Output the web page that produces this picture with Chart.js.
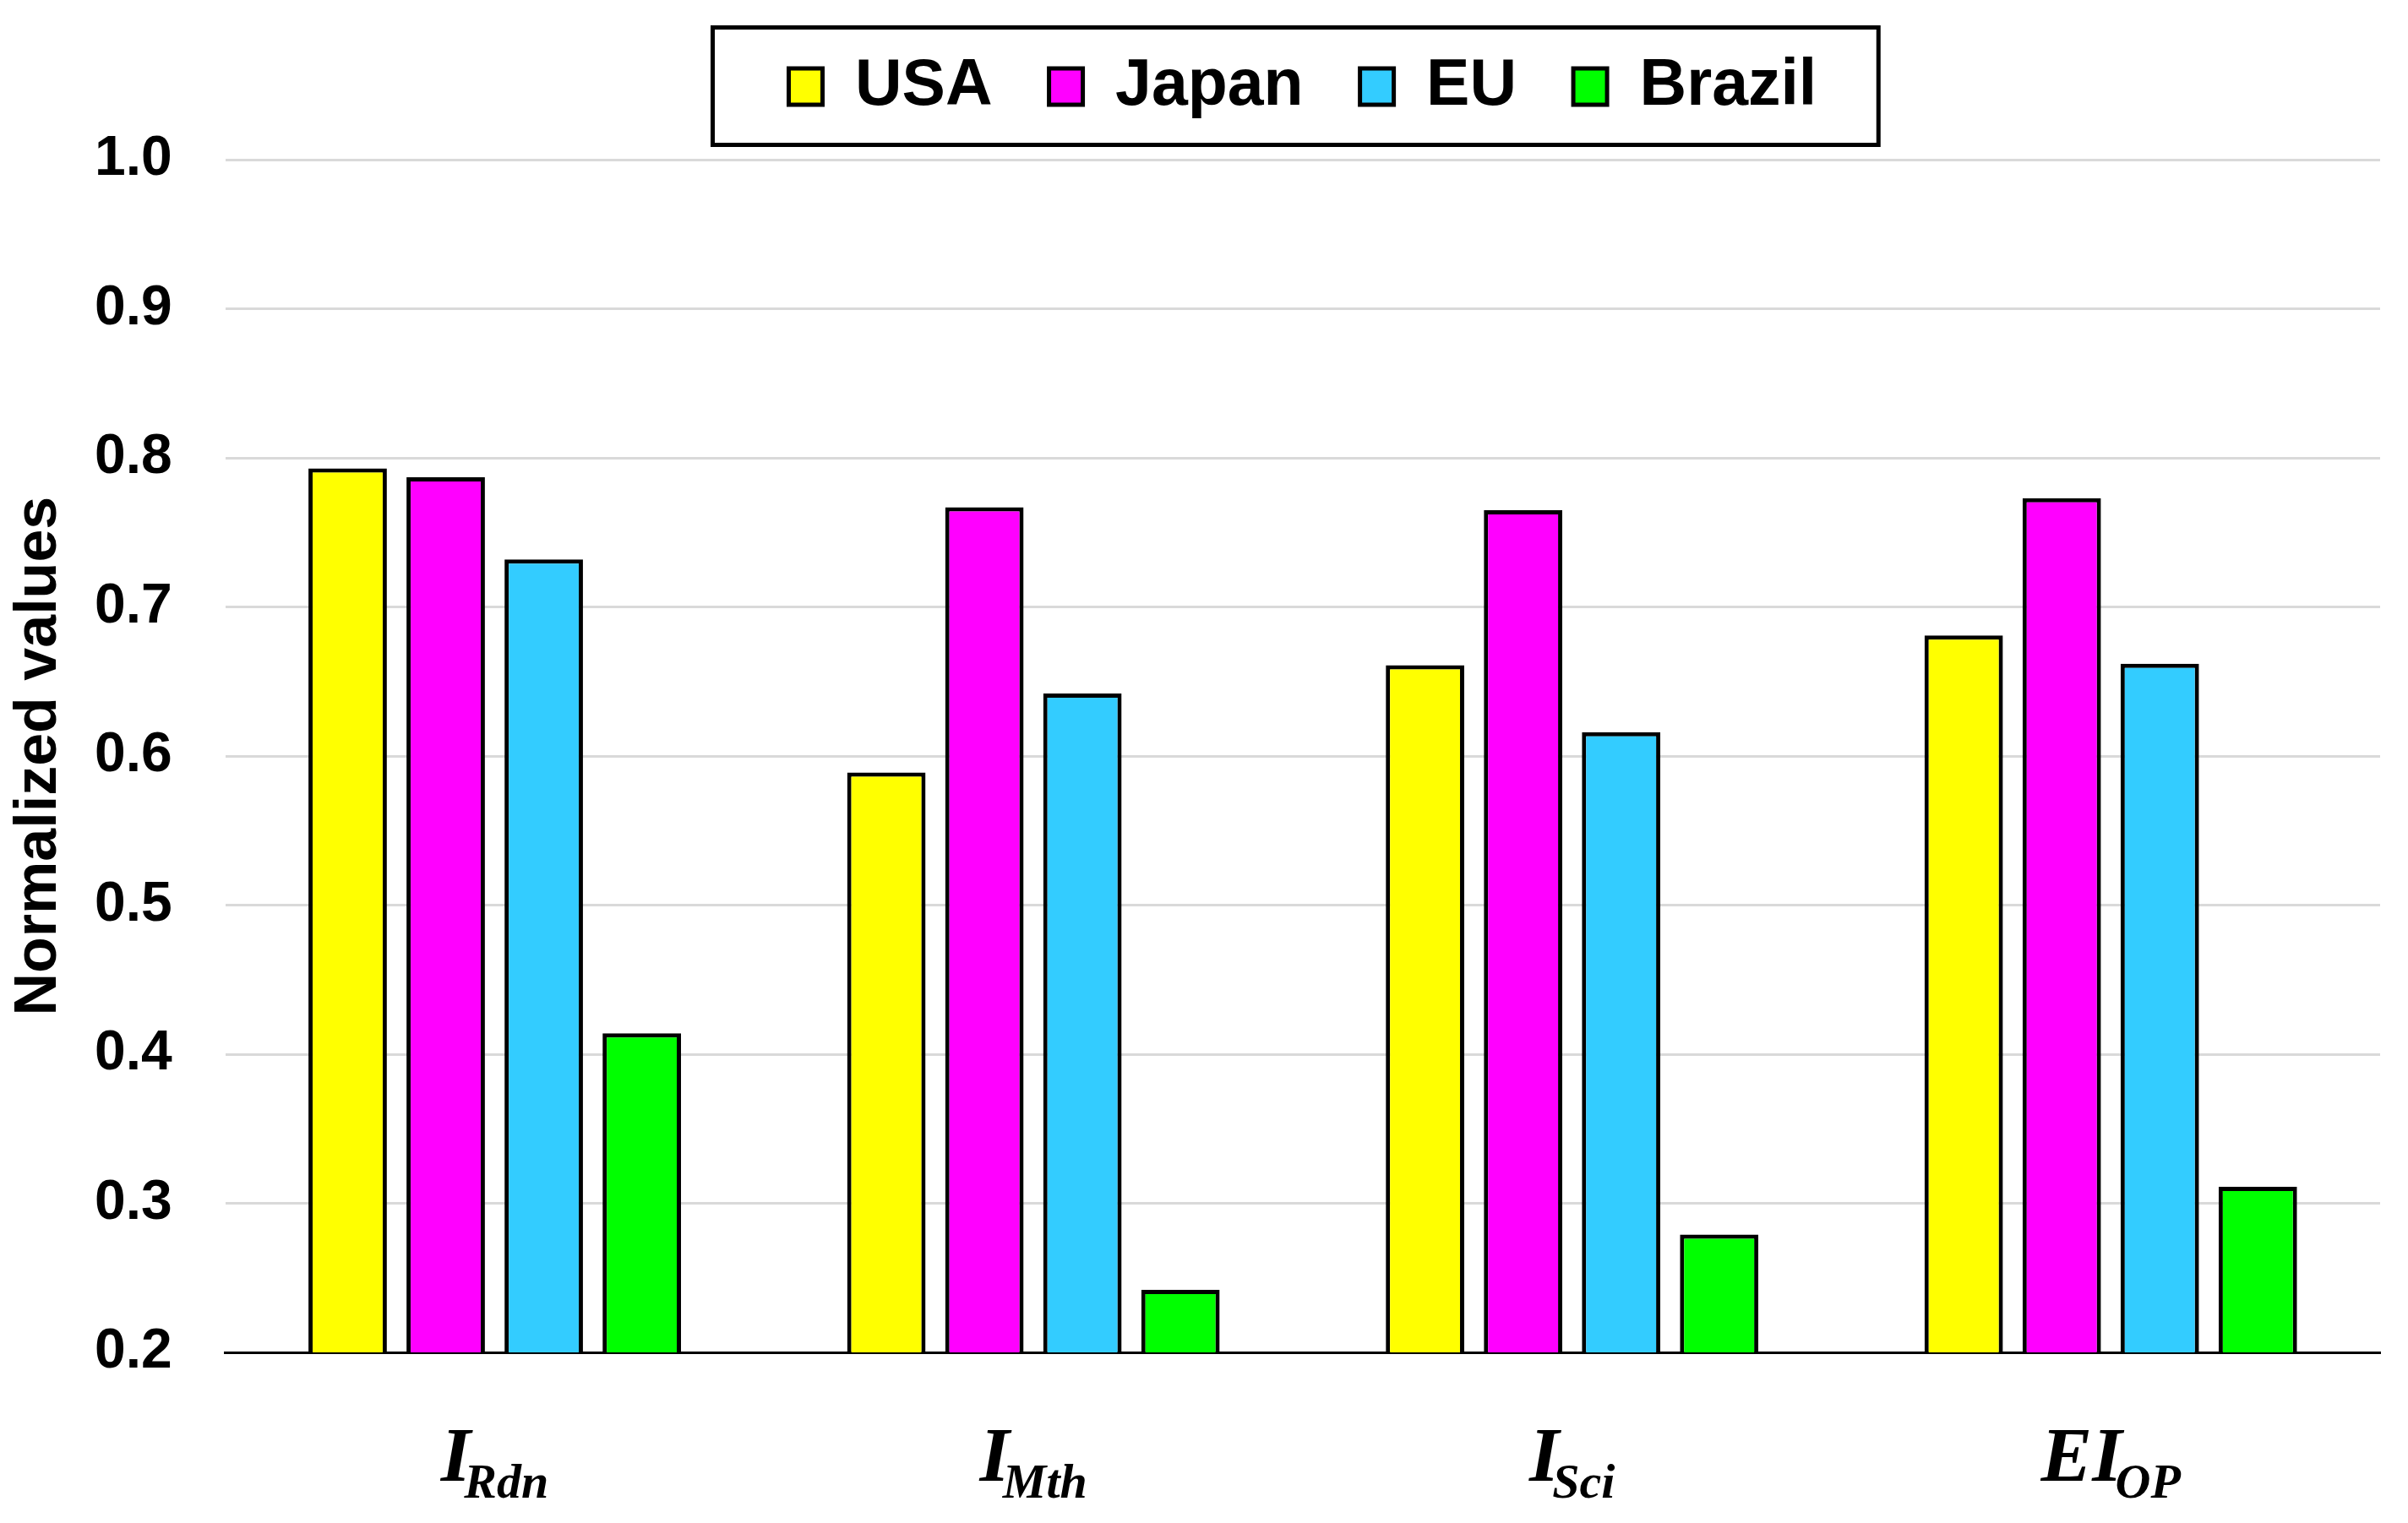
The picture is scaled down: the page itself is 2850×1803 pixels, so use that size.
<!DOCTYPE html>
<html>
<head>
<meta charset="utf-8">
<script src="https://cdn.jsdelivr.net/npm/chart.js@4.4.1/dist/chart.umd.min.js"></script>
<style>
  body { margin: 0; background: #fff; }
</style>
</head>
<body>
<canvas id="BarChart" width="2850" height="1803"></canvas>
<script>
// categories (main letter + subscript)
var catMain = ['I', 'I', 'I', 'EI'];
var catSub = ['Rdn', 'Mth', 'Sci', 'OP'];
var categories = ['IRdn', 'IMth', 'ISci', 'EIOP'];

// series values
var usa    = [0.793, 0.589, 0.661, 0.681];
var japan  = [0.787, 0.767, 0.765, 0.773];
var eu     = [0.732, 0.642, 0.616, 0.662];
var brazil = [0.414, 0.242, 0.279, 0.311];

// y ticks
var yMin = 0.2, yMax = 1.0, yStep = 0.1;

var ctx = document.getElementById('BarChart');

function ds(label, values, color) {
    return {
        label: label,
        data: values,
        backgroundColor: color,
        borderColor: '#000000',
        borderWidth: 5,
        borderSkipped: false,
        categoryPercentage: 0.728,
        barPercentage: 0.8
    };
}

var data = {
    labels: categories,
    datasets: [
        ds('USA', usa, '#FFFF00'),
        ds('Japan', japan, '#FF00FF'),
        ds('EU', eu, '#33CCFF'),
        ds('Brazil', brazil, '#00FF00')
    ]
};

var mainFont = 'italic bold 91px "Liberation Serif"';
var subFont = 'italic bold 58px "Liberation Serif"';

// frame round the legend + subscripted category labels
var extras = {
    id: 'extras',
    afterDraw: function (chart) {
        var c = chart.ctx;
        var boxes = chart.legend.legendHitBoxes;
        if (boxes && boxes.length) {
            var first = boxes[0], last = boxes[boxes.length - 1];
            var mid = first.top + first.height / 2;
            var l = first.left - 90, r = last.left + last.width + 73;
            var t = mid - 70, b = mid + 69;
            c.save();
            c.strokeStyle = '#000';
            c.lineWidth = 5;
            c.strokeRect(l, t, r - l, b - t);
            c.restore();
        }

        var x = chart.scales.x;
        var base = chart.chartArea.bottom;
        c.save();
        c.fillStyle = '#000';
        c.textBaseline = 'alphabetic';
        c.textAlign = 'left';
        for (var i = 0; i < catMain.length; i++) {
            var cx = x.getPixelForValue(i);
            c.font = mainFont;
            var w1 = c.measureText(catMain[i]).width - 8;
            c.font = subFont;
            var w2 = c.measureText(catSub[i]).width;
            var sx = cx - (w1 + w2) / 2;
            c.font = mainFont;
            c.fillText(catMain[i], sx, base + 152);
            c.font = subFont;
            c.fillText(catSub[i], sx + w1, base + 172);
        }
        c.restore();
    }
};

var options = {
    responsive: false,
    devicePixelRatio: 1,
    animation: false,
    layout: {
        padding: { left: 0, right: 33, top: -3, bottom: 194 }
    },
    plugins: {
        legend: {
            display: true,
            position: 'top',
            fullSize: false,
            labels: {
                color: '#000',
                font: { family: '"Liberation Sans", Arial', size: 77, weight: 'bold' },
                boxWidth: 40,
                boxHeight: 43,
                padding: 67
            }
        },
        subtitle: {
            display: true,
            text: ' ',
            weight: 500,
            font: { size: 1 },
            padding: { top: 0, bottom: 37 }
        },
        tooltip: { enabled: false }
    },
    scales: {
        x: {
            grid: { display: false },
            border: { display: true, color: '#000', width: 3 },
            ticks: { display: false }
        },
        y: {
            min: yMin,
            max: yMax,
            border: { display: false },
            grid: { color: '#d9d9d9', lineWidth: 3, drawTicks: false },
            ticks: {
                stepSize: yStep,
                padding: 63,
                color: '#000',
                font: { family: '"Liberation Sans", Arial', size: 66, weight: 'bold' },
                callback: function (v) { return v.toFixed(1); }
            },
            title: {
                display: true,
                text: 'Normalized values',
                color: '#000',
                font: { family: '"Liberation Sans", Arial', size: 70, weight: 'bold' },
                padding: { top: 5, bottom: -40 }
            }
        }
    }
};

var chart = new Chart(ctx, {
    type: 'bar',
    data: data,
    options: options,
    plugins: [extras]
});
</script>
</body>
</html>
